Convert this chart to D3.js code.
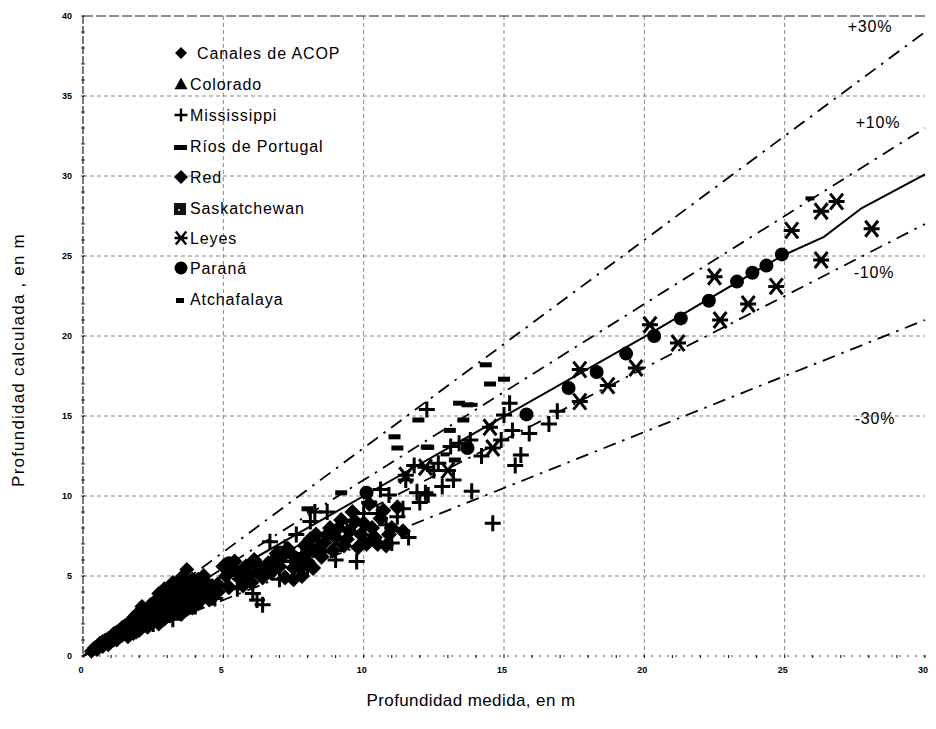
<!DOCTYPE html>
<html>
<head>
<meta charset="UTF-8">
<script src="https://d3js.org/d3.v7.min.js"></script>
<style>
  body { margin: 0; background: #fff; }
  text { font-family: "Liberation Sans", Arial, sans-serif; fill: #000; }
</style>
</head>
<body>
<script>
var width = 936, height = 729;

// data: [medida, calculada]
var canales = [[0.3,0.3],[0.4,0.5],[0.5,0.4],[0.6,0.8],[0.7,0.6],[0.8,1.0],[0.9,0.7],[1.0,1.2],[1.0,0.9],[1.1,1.4],
  [1.2,1.0],[1.3,1.6],[1.3,1.2],[1.4,1.3],[1.5,1.9],[1.5,1.4],[1.6,1.2],[1.7,2.1],[1.7,1.6],[1.8,2.4],[1.8,1.4],
  [1.9,1.9],[2.0,2.6],[2.0,2.2],[2.0,1.6],[2.1,3.1],[2.2,2.0],[2.2,2.7],[2.3,2.3],[2.3,1.8],[2.4,3.2],[2.4,2.6],
  [2.5,2.1],[2.5,2.9],[2.6,3.5],[2.6,2.4],[2.7,2.0],[2.7,3.0],[2.8,3.7],[2.8,2.6],[2.9,4.2],[2.9,2.3],[3.0,3.3],
  [3.0,2.8],[3.1,3.9],[3.1,2.5],[3.2,3.0],[3.2,4.6],[3.3,3.5],[3.3,2.7],[3.4,4.1],[3.4,3.1],[3.5,2.6],[3.5,3.7],
  [3.6,4.5],[3.6,3.2],[3.7,5.4],[3.7,2.9],[3.8,3.9],[3.8,3.4],[3.9,4.8],[3.9,3.0],[4.0,4.2],[4.0,3.6],[4.1,3.3],
  [4.2,4.5],[4.3,3.8],[4.4,4.1],[4.5,3.5],[4.6,4.4],
  [0.5,0.6],[0.7,0.9],[0.9,1.1],[1.1,1.0],[1.2,1.5],[1.4,1.8],[1.6,2.0],[1.6,1.5],[1.9,2.6],[1.9,1.5],[2.1,2.4],
  [2.1,1.8],[2.3,2.9],[2.5,3.3],[2.6,2.8],[2.7,3.9],[2.8,3.2],[3.0,4.0],[3.1,3.5],[3.2,2.6],[3.3,4.4],[3.4,3.6],
  [3.5,4.9],[3.6,2.8],[3.7,4.2],[3.8,3.0],[3.9,4.4],[4.0,3.3],[4.1,4.8],[4.2,3.8],[4.4,4.6],[4.5,4.0],[4.6,3.6],
  [4.8,4.5]];
var colorado = [[0.4,0.3],[0.6,0.5],[0.8,0.7],[1.1,0.9],[1.5,1.2]];
var mississippi = [[2.5,2.0],[3.2,2.3],[4.0,3.1],[4.7,3.6],[5.5,4.2],[6.05,3.9],[6.4,3.2],[6.2,3.5],[6.66,7.14],
  [7.0,4.8],[7.4,5.9],[7.8,6.4],[8.26,9.0],[8.7,9.0],[8.4,7.2],[9.0,6.0],[9.4,7.9],[9.75,5.9],[10.05,7.56],[10.5,8.9],
  [10.6,10.4],[10.9,10.06],[11.0,7.06],[11.2,8.7],[11.5,11.0],[11.9,10.2],[12.2,10.2],[12.3,10.06],[12.5,11.6],
  [12.66,12.04],[13.2,11.0],[12.25,15.4],[13.1,13.1],[13.4,13.3],[13.85,10.3],[14.6,8.3],[14.9,13.5],[15.0,15.06],
  [15.2,15.8],[15.3,14.1],[15.4,11.9],[15.6,12.56],[15.9,13.9],[16.6,14.5],[16.9,15.3],[13.8,13.5],[14.2,12.5],
  [11.8,11.9],[10.0,8.9],
  [6.8,5.8],[7.2,6.8],[8.0,5.4],[8.6,6.5],[9.2,7.0],[9.6,8.4],[10.2,9.6],[10.8,8.2],[11.4,9.2],[11.6,7.4],
  [12.0,9.6],[12.8,10.6],[7.6,7.6],[8.1,8.4]];
var portugal = [[8.0,9.2],[9.2,10.2],[11.1,13.7],[11.2,13.0],[11.95,14.75],[12.3,13.04],[13.25,12.25],[13.07,14.1],
  [13.4,15.8],[13.7,15.7],[13.55,14.75],[14.35,18.2],[14.5,17.0],[15.0,17.3],[12.25,13.06]];
var red = [[4.8,4.0],[5.0,5.6],[5.2,4.3],[5.4,5.9],[5.6,4.8],[5.8,5.6],[6.0,4.6],[6.2,5.3],[6.4,4.9],[6.6,5.8],
  [6.7,5.2],[6.9,6.4],[7.0,5.6],[7.2,4.9],[7.3,6.7],[7.5,5.5],[7.6,6.1],[7.8,5.0],[7.9,6.9],[8.0,5.9],[8.2,6.6],
  [8.3,7.6],[8.5,6.2],[8.6,7.1],[8.8,8.0],[8.9,6.6],[9.0,7.4],[9.2,8.5],[9.3,6.9],[9.5,7.8],[9.6,9.0],[9.8,6.8],
  [10.0,8.3],[10.1,7.0],[10.2,9.5],[10.4,7.4],[10.6,8.6],[10.8,6.9],[11.0,8.0],[3.8,4.6],[4.3,5.0],
  [5.1,5.0],[5.3,5.4],[5.5,5.2],[5.7,4.4],[5.9,5.0],[6.1,6.0],[6.3,5.6],[6.5,5.2],[6.8,6.0],[7.1,6.2],[7.4,6.4],
  [7.7,5.6],[7.9,6.3],[8.1,7.3],[8.4,6.8],[8.7,7.6],[9.1,8.0],[9.4,7.3],[9.7,8.4],[9.9,7.6],[10.3,8.0],[10.5,7.0],
  [10.7,9.1],[10.9,7.6],[11.2,9.3],[11.4,7.8],[8.2,5.5],[7.5,4.8]];
var saskatchewan = [[1.2,1.1],[1.9,1.7],[2.6,2.3]];
var leyes = [[11.5,11.3],[12.2,11.8],[13.0,11.6],[14.5,14.3],[14.6,13.0],[17.7,17.9],[17.7,15.9],[18.7,16.9],
  [19.7,18.0],[20.2,20.7],[21.2,19.56],[22.7,21.0],[22.5,23.7],[23.7,22.0],[24.7,23.1],[25.25,26.6],[26.3,27.8],
  [26.85,28.4],[28.1,26.7],[26.3,24.75]];
var parana = [[5.2,5.8],[10.1,10.2],[13.7,13.0],[15.8,15.1],[17.3,16.75],[18.3,17.75],[19.35,18.9],[20.35,20.0],
  [21.3,21.1],[22.3,22.2],[23.3,23.4],[23.85,23.95],[24.35,24.4],[24.9,25.1]];
var atchafalaya = [[7.3,6.2],[10.3,9.6],[13.9,15.7],[12.9,12.6],[25.9,28.6]];

var fitLine = [[0,0],[10,10],[20,19.95],[24.9,25.0],[26.4,26.2],[27.75,28.0],[30,30.1]];
var bandFactors = [1.3, 1.1, 0.9, 0.7];
var bandLabels = ["+30%", "+10%", "-10%", "-30%"];
var xTicks = [0, 5, 10, 15, 20, 25, 30];
var yTicks = [0, 5, 10, 15, 20, 25, 30, 35, 40];
var legendNames = ["Canales de ACOP", "Colorado", "Mississippi", "Ríos de Portugal", "Red",
  "Saskatchewan", "Leyes", "Paraná", "Atchafalaya"];

var svg = d3.select("body").append("svg").attr("width", width).attr("height", height);

var x = d3.scaleLinear().domain([0, 30]).range([83, 925]);
var y = d3.scaleLinear().domain([0, 40]).range([656, 16]);

// grid
var grid = svg.append("g").attr("stroke", "#777").attr("stroke-width", 0.9).attr("stroke-dasharray", "4,3");
grid.selectAll(".gv").data(xTicks.slice(1, -1)).join("line")
  .attr("x1", d => x(d)).attr("x2", d => x(d)).attr("y1", y(40)).attr("y2", y(0));
grid.selectAll(".gh").data(yTicks.slice(1, -1)).join("line")
  .attr("x1", x(0)).attr("x2", x(30)).attr("y1", d => y(d)).attr("y2", d => y(d));

// frame
svg.append("line").attr("x1", x(0)).attr("x2", x(0)).attr("y1", y(40)).attr("y2", y(0))
  .attr("stroke", "#222").attr("stroke-width", 1.2).attr("stroke-dasharray", "8,2");
svg.append("line").attr("x1", x(0)).attr("x2", x(30)).attr("y1", y(40)).attr("y2", y(40))
  .attr("stroke", "#222").attr("stroke-width", 1.2).attr("stroke-dasharray", "10,3");
svg.append("line").attr("x1", x(0)).attr("x2", x(30)).attr("y1", y(0)).attr("y2", y(0))
  .attr("stroke", "#444").attr("stroke-width", 1).attr("stroke-dasharray", "2,6");

// minor ticks
svg.append("g").selectAll("line").data(d3.range(0, 41, 1)).join("line")
  .attr("x1", x(0) - 2).attr("x2", x(0) + 2).attr("y1", d => y(d)).attr("y2", d => y(d))
  .attr("stroke", "#222").attr("stroke-width", 1);
svg.append("g").selectAll("line").data(d3.range(0, 31, 1)).join("line")
  .attr("x1", d => x(d)).attr("x2", d => x(d)).attr("y1", y(0) - 1).attr("y2", y(0) + 2)
  .attr("stroke", "#222").attr("stroke-width", 1.2);

// tick labels
svg.append("g").selectAll("text").data(yTicks).join("text")
  .attr("x", 72).attr("y", d => y(d) + 3).attr("text-anchor", "end")
  .attr("font-size", 9).attr("font-weight", "bold").text(d => d);
svg.append("g").selectAll("text").data(xTicks).join("text")
  .attr("x", d => x(d) - 2).attr("y", 673).attr("text-anchor", "middle")
  .attr("font-size", 9).attr("font-weight", "bold").text(d => d);

// bands
svg.append("g").selectAll("line").data(bandFactors).join("line")
  .attr("x1", x(0)).attr("y1", y(0)).attr("x2", x(30)).attr("y2", d => y(30 * d))
  .attr("stroke", "#000").attr("stroke-width", 1.8).attr("stroke-dasharray", "13,7,2.5,7");

svg.append("path").datum(fitLine)
  .attr("d", d3.line().x(d => x(d[0])).y(d => y(d[1])))
  .attr("fill", "none").attr("stroke", "#000").attr("stroke-width", 2);

var bandPos = [[870, 32], [878, 128], [874, 278], [875, 424]];
svg.append("g").selectAll("text").data(bandLabels).join("text")
  .attr("x", (d, i) => bandPos[i][0]).attr("y", (d, i) => bandPos[i][1])
  .attr("text-anchor", "middle").attr("font-size", 16).attr("letter-spacing", 0.8).text(d => d);

// marker shapes
function diamond(s) { return "M0," + (-s) + "L" + s + ",0L0," + s + "L" + (-s) + ",0Z"; }
function plus(s) { return "M" + (-s) + ",0H" + s + "M0," + (-s) + "V" + s; }
function star(s) { var a = s * 0.8; return "M" + (-a) + "," + (-s) + "L" + a + "," + s + "M" + (-a) + "," + s + "L" + a + "," + (-s) + "M" + (-s) + ",0H" + s; }
function tri(s) { return "M0," + (-s) + "L" + s + "," + (s * 0.8) + "L" + (-s) + "," + (s * 0.8) + "Z"; }

var pts = svg.append("g");
function drawFilled(data, pathStr) {
  pts.append("g").selectAll("path").data(data).join("path")
    .attr("transform", d => "translate(" + x(d[0]) + "," + y(d[1]) + ")")
    .attr("d", pathStr).attr("fill", "#000");
}
function drawStroked(data, pathStr, w) {
  pts.append("g").selectAll("path").data(data).join("path")
    .attr("transform", d => "translate(" + x(d[0]) + "," + y(d[1]) + ")")
    .attr("d", pathStr).attr("fill", "none").attr("stroke", "#000").attr("stroke-width", w);
}
function drawRect(data, w, h) {
  pts.append("g").selectAll("rect").data(data).join("rect")
    .attr("x", d => x(d[0]) - w / 2).attr("y", d => y(d[1]) - h / 2)
    .attr("width", w).attr("height", h).attr("fill", "#000");
}

drawFilled(canales, diamond(7.5));
drawFilled(red, diamond(8));
drawFilled(colorado, tri(5));
drawRect(saskatchewan, 9, 9);
drawStroked(mississippi, plus(8), 3);
drawRect(portugal, 12, 5);
drawRect(atchafalaya, 9, 4);
drawStroked(leyes, star(8), 3);
pts.append("g").selectAll("circle").data(parana).join("circle")
  .attr("cx", d => x(d[0])).attr("cy", d => y(d[1])).attr("r", 7).attr("fill", "#000");

// legend
var legRows = [53, 84, 115, 146, 177, 208, 238, 268, 299];
var leg = svg.append("g");
leg.selectAll("text").data(legendNames).join("text")
  .attr("x", (d, i) => i === 0 ? 197 : 190).attr("y", (d, i) => legRows[i] + 6)
  .attr("font-size", 16).attr("letter-spacing", 0.9).text(d => d);
function legMark(i) { return leg.append("g").attr("transform", "translate(181," + legRows[i] + ")"); }
legMark(0).append("path").attr("d", diamond(6)).attr("fill", "#000");
legMark(1).append("path").attr("d", tri(6.5)).attr("fill", "#000");
legMark(2).append("path").attr("d", plus(6.5)).attr("fill", "none").attr("stroke", "#000").attr("stroke-width", 2.4);
legMark(3).append("rect").attr("x", -7).attr("y", -1).attr("width", 13).attr("height", 5).attr("fill", "#000");
legMark(4).append("path").attr("d", diamond(7)).attr("fill", "#000");
legMark(5).append("rect").attr("x", -7).attr("y", -5).attr("width", 12).attr("height", 12).attr("fill", "#111");
legMark(5).append("rect").attr("x", -3).attr("y", 1).attr("width", 2).attr("height", 2).attr("fill", "#bbb");
legMark(6).append("path").attr("d", star(6.5)).attr("fill", "none").attr("stroke", "#000").attr("stroke-width", 2.4);
legMark(7).append("circle").attr("r", 6.5).attr("fill", "#000");
legMark(8).append("rect").attr("x", -5).attr("y", -1).attr("width", 8).attr("height", 5).attr("fill", "#000");

// axis titles
svg.append("text").attr("x", 471).attr("y", 706).attr("text-anchor", "middle")
  .attr("font-size", 17).attr("letter-spacing", 0.4).text("Profundidad medida, en m");
svg.append("text").attr("transform", "translate(24,360) rotate(-90)").attr("text-anchor", "middle")
  .attr("font-size", 17).attr("letter-spacing", 1.2).text("Profundidad calculada , en m");
</script>
</body>
</html>
